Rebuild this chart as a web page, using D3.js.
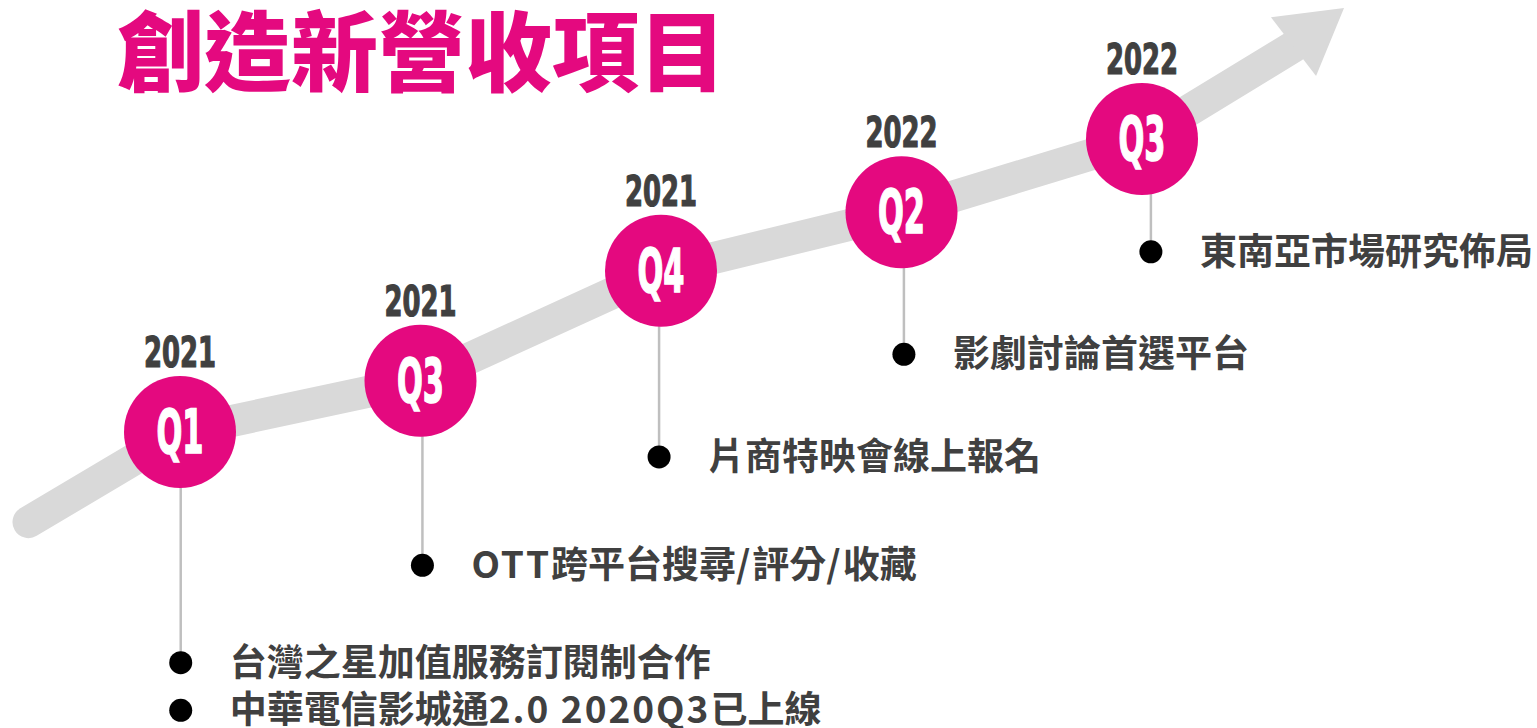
<!DOCTYPE html>
<html>
<head>
<meta charset="utf-8">
<script src="https://cdn.jsdelivr.net/npm/d3@7"></script>
<style>
  body { margin: 0; background: #fff; }
</style>
</head>
<body>
<div id="chart"></div>
<script>
// milestone data
var quarters = ["Q1", "Q3", "Q4", "Q2", "Q3"];
var years = ["2021", "2021", "2021", "2022", "2022"];
// height of each milestone on the growth arrow
var levels = [1.0, 1.7, 3.2, 4.0, 5.0];
// items under each milestone, and the level of their bullet
var items = [
  ["台灣之星加值服務訂閱制合作", "中華電信影城通2.0 2020Q3已上線"],
  ["OTT跨平台搜尋/評分/收藏"],
  ["片商特映會線上報名"],
  ["影劇討論首選平台"],
  ["東南亞市場研究佈局"]
];
var itemLevels = [[-2.15, -2.8], [-0.82], [0.66], [2.06], [3.46]];
// where the stem and bullets sit (milestone index)
var stemPos = [0.003, 1.008, 1.992, 3.01, 4.037];
// arrow tail and head (milestone index, level)
var arrowTail = [-0.63, -0.23];
var arrowBase = [4.63, 6.26];
var arrowTip = [4.84, 6.79];

var svgWidth = 1537;
var svgHeight = 728;
var pink = "#e4097f";
var grey = "#404040";

var svg = d3.select("#chart")
  .append("svg")
  .attr("width", svgWidth)
  .attr("height", svgHeight);

var x = d3.scaleLinear().domain([0, 4]).range([180, 1142]);
var y = d3.scaleLinear().domain([1, 5]).range([432, 139]);

var data = quarters.map(function(q, i) {
  return { q: q, year: years[i], level: levels[i], i: i, stem: stemPos[i],
           items: items[i], itemLevels: itemLevels[i] };
});

// title
svg.append("text")
  .attr("x", 117)
  .attr("y", 85)
  .style("font-family", "'Noto Sans CJK TC', 'Noto Sans CJK SC', sans-serif")
  .style("font-weight", 900)
  .style("font-size", "87px")
  .style("fill", pink)
  .text("創造新營收項目");

// growth arrow
var pts = [arrowTail].concat(data.map(d => [d.i, d.level])).concat([arrowBase]);
var line = d3.line().x(d => x(d[0])).y(d => y(d[1]));

svg.append("path")
  .attr("d", line(pts))
  .attr("fill", "none")
  .attr("stroke", "#d9d9d9")
  .attr("stroke-width", 32)
  .attr("stroke-linecap", "round")
  .attr("stroke-linejoin", "round");

var bx = x(arrowBase[0]), by = y(arrowBase[1]);
var tx = x(arrowTip[0]), ty = y(arrowTip[1]);
var len = Math.hypot(tx - bx, ty - by);
var px = -(ty - by) / len * 37, py = (tx - bx) / len * 37;
svg.append("path")
  .attr("d", "M" + (bx + px) + "," + (by + py) + "L" + tx + "," + ty + "L" + (bx - px) + "," + (by - py) + "Z")
  .attr("fill", "#d9d9d9");

var r = 56;
var g = svg.selectAll("g.milestone")
  .data(data)
  .enter()
  .append("g")
  .attr("class", "milestone");

// connector
g.append("line")
  .attr("x1", d => x(d.stem))
  .attr("x2", d => x(d.stem))
  .attr("y1", d => y(d.level) + r - 2)
  .attr("y2", d => y(d.itemLevels[0]))
  .attr("stroke", "#bfbfbf")
  .attr("stroke-width", 2.5);

g.append("circle")
  .attr("cx", d => x(d.i))
  .attr("cy", d => y(d.level))
  .attr("r", r)
  .attr("fill", pink);

g.append("text")
  .attr("x", d => x(d.i))
  .attr("y", d => y(d.level) + 21)
  .attr("text-anchor", "middle")
  .attr("textLength", 47)
  .attr("lengthAdjust", "spacingAndGlyphs")
  .style("font-family", "'Liberation Sans Narrow', 'DejaVu Sans Condensed', sans-serif")
  .style("font-weight", "bold")
  .style("font-size", "60px")
  .style("fill", "#fff")
  .style("stroke", "#fff")
  .style("stroke-width", 1.5)
  .text(d => d.q);

g.append("text")
  .attr("x", d => x(d.i))
  .attr("y", d => y(d.level) - r - 9)
  .attr("text-anchor", "middle")
  .attr("textLength", 72)
  .attr("lengthAdjust", "spacingAndGlyphs")
  .style("font-family", "'Liberation Sans Narrow', 'DejaVu Sans Condensed', sans-serif")
  .style("font-weight", "bold")
  .style("font-size", "42px")
  .style("fill", grey)
  .style("stroke", grey)
  .style("stroke-width", 1.2)
  .text(d => d.year);

// bullet items
var it = g.selectAll("g.item")
  .data(d => d.items.map((t, k) => ({ t: t, stem: d.stem, level: d.itemLevels[k] })))
  .enter()
  .append("g")
  .attr("class", "item");

it.append("circle")
  .attr("cx", d => x(d.stem))
  .attr("cy", d => y(d.level))
  .attr("r", 11.5)
  .attr("fill", "#000");

// split latin runs so they can get a little extra spacing
it.append("text")
  .attr("x", d => x(d.stem) + 49)
  .attr("y", d => y(d.level) + 13)
  .style("font-family", "'Noto Sans CJK TC', 'Noto Sans CJK SC', sans-serif")
  .style("font-weight", "bold")
  .style("font-size", "37px")
  .style("fill", grey)
  .selectAll("tspan")
  .data(d => d.t.match(/[A-Za-z0-9.\/ ]+|[^A-Za-z0-9.\/ ]+/g))
  .enter()
  .append("tspan")
  .attr("letter-spacing", s => /^[A-Za-z0-9.\/ ]+$/.test(s) ? 2 : 0)
  .style("white-space", "pre")
  .text(s => s);
</script>
</body>
</html>
